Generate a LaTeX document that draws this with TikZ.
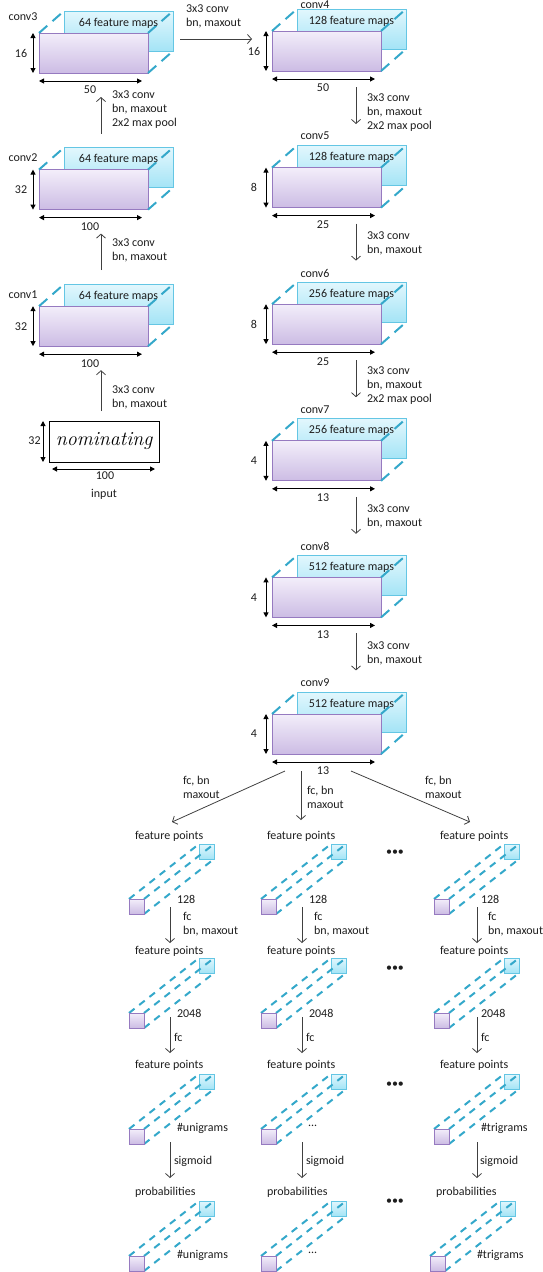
\documentclass[tikz,border=0pt]{standalone}
\usepackage{fontspec}
\newfontfamily\calfont{Carlito}
\usetikzlibrary{arrows.meta,calc}
\definecolor{purpTop}{RGB}{243,238,250}
\definecolor{purpBot}{RGB}{204,188,228}
\definecolor{purpLine}{RGB}{150,122,192}
\definecolor{cyanTop}{RGB}{226,247,253}
\definecolor{cyanBot}{RGB}{164,228,246}
\definecolor{cyanLine}{RGB}{100,198,228}
\definecolor{dashCol}{RGB}{52,168,202}
\definecolor{flowCol}{RGB}{64,64,64}
\definecolor{txtCol}{RGB}{30,30,30}
\tikzset{
 every node/.style={inner sep=0pt, outer sep=0pt, text=txtCol, font=\calfont\fontsize{12}{14}\selectfont},
 lbl/.style={align=left, anchor=west},
 purpbox/.style={draw=purpLine, line width=1pt, top color=purpTop, bottom color=purpBot, minimum width=109pt, minimum height=40pt, anchor=north west},
 cyanbox/.style={draw=cyanLine, line width=1pt, top color=cyanTop, bottom color=cyanBot, minimum width=109pt, minimum height=40pt, anchor=north west},
 purpsq/.style={purpbox, minimum width=15pt, minimum height=15pt},
 cyansq/.style={cyanbox, minimum width=15pt, minimum height=15pt},
 edgedash/.style={draw=dashCol, line width=2pt, dash pattern=on 11pt off 7pt},
 ptdash/.style={draw=dashCol, line width=2pt, dash pattern=on 7pt off 6pt},
 dimarr/.style={draw=black, line width=1pt, {Triangle[length=5pt,width=5pt]}-{Triangle[length=5pt,width=5pt]}},
 flow/.style={draw=flowCol, line width=0.8pt, -{Straight Barb[length=4pt,width=9pt]}},
}
% conv block: #1 name, #2 x, #3 y (front face top-left), #4 maps, #5 height, #6 width
\newcommand\convblk[6]{%
 \node[cyanbox] (#1c) at (#2+25,#3-22) {};
 \node[purpbox] (#1p) at (#2,#3) {};
 \draw[edgedash] (#1p.north west) -- (#1c.north west);
 \draw[edgedash] (#1p.north east) -- (#1c.north east);
 \draw[edgedash] (#1p.south east) -- (#1c.south east);
 \node (#1m) at ($(#1c.north)+(0,12)$) {#4 feature maps};
 \draw[dimarr] ($(#1p.north west)+(-6,0)$) -- ($(#1p.south west)+(-6,0)$);
 \node (#1h) at ($(#1p.west)+(-18,0)$) {#5};
 \draw[dimarr] ($(#1p.south west)+(0,8)$) -- ($(#1p.south west)+(103,8)$);
 \node (#1w) at ($(#1p.south west)+(51,17)$) {#6};
}
% feature point glyph: #1 name, #2 x, #3 y (purple square top-left)
\newcommand\fpglyph[3]{%
 \node[cyansq] (#1c) at (#2+70,#3-55) {};
 \draw[ptdash] (#2,#3) -- (#2+70,#3-55);
 \draw[ptdash] (#2+15,#3) -- (#2+85,#3-55);
 \draw[ptdash] (#2+15,#3+15) -- (#2+85,#3-40);
 \node[purpsq] (#1p) at (#2,#3) {};
}
\begin{document}
\begin{tikzpicture}[x=1pt,y=-1pt]
\useasboundingbox (0,0) rectangle (542,1272);

% left column
\convblk{c3}{39}{33}{64}{16}{50}
\convblk{c2}{39}{169.6}{64}{32}{100}
\convblk{c1}{39}{306.2}{64}{32}{100}
\node (n3) at (23,17) {conv3};
\node (n2) at (23,158) {conv2};
\node (n1) at (23,295) {conv1};

% input
\node[draw=black, line width=0.7pt, minimum width=110pt, minimum height=41pt, anchor=north west,
      font=\rmfamily\itshape\fontsize{20}{20}\selectfont, text=black] (inp) at (49,421) {nominating};
\draw[dimarr] ($(inp.north west)+(-6,0)$) -- ($(inp.south west)+(-6,0)$);
\node (inph) at (34.5,441) {32};
\draw[dimarr] ($(inp.south west)+(3,7)$) -- ($(inp.south west)+(106,7)$);
\node (inpw) at (105,476) {100};
\node (inpl) at (104,494) {input};

% right column
\convblk{c4}{272}{31}{128}{16}{50}
\convblk{c5}{272}{167.6}{128}{8}{25}
\convblk{c6}{272}{304.2}{256}{8}{25}
\convblk{c7}{272}{440.8}{256}{4}{13}
\convblk{c8}{272}{577.4}{512}{4}{13}
\convblk{c9}{272}{714}{512}{4}{13}
\node (n4) at (315,4.5) {conv4};
\node (n5) at (315,136) {conv5};
\node (n6) at (315,273) {conv6};
\node (n7) at (315,410) {conv7};
\node (n8) at (315,546) {conv8};
\node (n9) at (315,683) {conv9};

% flow arrows of the conv part
\draw[flow] ($(inp.north west)+(52,-10)$) -- ($(c1p.south west)+(62,24)$);
\draw[flow] ($(c1c.north west)+(37,-14)$) -- ($(c2p.south west)+(62,24)$);
\draw[flow] ($(c2c.north west)+(37,-14)$) -- ($(c3p.south west)+(62,24)$);
\draw[flow] ($(c3c.north east)+(7,28)$) -- ($(c4p.north west)+(-20,8)$);
\draw[flow] ($(c4p.south west)+(84,16)$) -- ($(c5c.north west)+(59,-21.6)$);
\draw[flow] ($(c5p.south west)+(84,16)$) -- ($(c6c.north west)+(59,-21.6)$);
\draw[flow] ($(c6p.south west)+(84,16)$) -- ($(c7c.north west)+(59,-21.6)$);
\draw[flow] ($(c7p.south west)+(84,16)$) -- ($(c8c.north west)+(59,-21.6)$);
\draw[flow] ($(c8p.south west)+(84,16)$) -- ($(c9c.north west)+(59,-21.6)$);

\node[lbl] (t01) at (112,397) {3x3 conv\\bn, maxout};
\node[lbl] (t12) at (112,250.5) {3x3 conv\\bn, maxout};
\node[lbl] (t23) at (112,109.5) {3x3 conv\\bn, maxout\\2x2 max pool};
\node[lbl] (t34) at (186,16.5) {3x3 conv\\bn, maxout};
\node[lbl] (t45) at (367,113) {3x3 conv\\bn, maxout\\2x2 max pool};
\node[lbl] (t56) at (367,243) {3x3 conv\\bn, maxout};
\node[lbl] (t67) at (367,386) {3x3 conv\\bn, maxout\\2x2 max pool};
\node[lbl] (t78) at (367,516) {3x3 conv\\bn, maxout};
\node[lbl] (t89) at (367,653) {3x3 conv\\bn, maxout};

% feature point rows
\node[lbl] (fA1) at (135,836) {feature points};
\node[lbl] (fB1) at (267,836) {feature points};
\node[lbl] (fC1) at (440,836) {feature points};
\node[lbl] (fA2) at (135,951) {feature points};
\node[lbl] (fB2) at (267,951) {feature points};
\node[lbl] (fC2) at (440,951) {feature points};
\node[lbl] (fA3) at (135,1065) {feature points};
\node[lbl] (fB3) at (267,1065) {feature points};
\node[lbl] (fC3) at (440,1065) {feature points};
\node[lbl] (fA4) at (135,1192) {probabilities};
\node[lbl] (fB4) at (267,1192) {probabilities};
\node[lbl] (fC4) at (436,1192) {probabilities};

\fpglyph{gA1}{129}{899}
\fpglyph{gB1}{261}{899}
\fpglyph{gC1}{434}{899}
\fpglyph{gA2}{129}{1013}
\fpglyph{gB2}{261}{1013}
\fpglyph{gC2}{434}{1013}
\fpglyph{gA3}{129}{1129}
\fpglyph{gB3}{261}{1129}
\fpglyph{gC3}{434}{1129}
\fpglyph{gA4}{129}{1256}
\fpglyph{gB4}{261}{1256}
\fpglyph{gC4}{430}{1256}

\node[lbl] (sA1) at (177,899) {128};
\node[lbl] (sB1) at (309,899) {128};
\node[lbl] (sC1) at (481,899) {128};
\node[lbl] (sA2) at (177,1013) {2048};
\node[lbl] (sB2) at (309,1013) {2048};
\node[lbl] (sC2) at (481,1013) {2048};
\node[lbl] (sA3) at (177,1128) {\#unigrams};
\node[lbl] (sB3) at (308,1126) {...};
\node[lbl] (sC3) at (481,1128) {\#trigrams};
\node[lbl] (sA4) at (177,1255) {\#unigrams};
\node[lbl] (sB4) at (308,1253) {...};
\node[lbl] (sC4) at (477,1255) {\#trigrams};

\node (d1) at (395,853) {\textbullet\textbullet\textbullet};
\node (d2) at (395,969) {\textbullet\textbullet\textbullet};
\node (d3) at (395,1085) {\textbullet\textbullet\textbullet};
\node (d4) at (395,1202) {\textbullet\textbullet\textbullet};

% fan-out
\draw[flow] ($(c9p.south west)+(13,17)$) -- ($(fA1.west)+(37,-14)$);
\draw[flow] ($(c9p.south west)+(29,17)$) -- ($(fB1.west)+(34,-16)$);
\draw[flow] ($(c9p.south west)+(79,17)$) -- ($(fC1.west)+(30,-14)$);
\node[lbl] (tA) at (183,787.5) {fc, bn\\maxout};
\node[lbl] (tB) at (307,797) {fc, bn\\maxout};
\node[lbl] (tC) at (425,787.5) {fc, bn\\maxout};

% row arrows
\draw[flow] ($(gA1p.north west)+(41,8)$) -- ($(fA2.west)+(35,-8)$);
\draw[flow] ($(gB1p.north west)+(41,8)$) -- ($(fB2.west)+(35,-8)$);
\draw[flow] ($(gC1p.north west)+(43,8)$) -- ($(fC2.west)+(37,-8)$);
\draw[flow] ($(gA2p.north west)+(41,4)$) -- ($(fA3.west)+(35,-12)$);
\draw[flow] ($(gB2p.north west)+(41,4)$) -- ($(fB3.west)+(35,-12)$);
\draw[flow] ($(gC2p.north west)+(43,4)$) -- ($(fC3.west)+(37,-12)$);
\draw[flow] ($(gA3p.north west)+(41,13)$) -- ($(fA4.west)+(35,-14)$);
\draw[flow] ($(gB3p.north west)+(41,13)$) -- ($(fB4.west)+(35,-14)$);
\draw[flow] ($(gC3p.north west)+(43,13)$) -- ($(fC4.west)+(41,-14)$);

\node[lbl] (uA1) at (183,924.5) {fc\\bn, maxout};
\node[lbl] (uB1) at (314,924.5) {fc\\bn, maxout};
\node[lbl] (uC1) at (488,924.5) {fc\\bn, maxout};
\node[lbl] (uA2) at (174,1037) {fc};
\node[lbl] (uB2) at (306,1037) {fc};
\node[lbl] (uC2) at (481,1037) {fc};
\node[lbl] (uA3) at (174,1161) {sigmoid};
\node[lbl] (uB3) at (306,1161) {sigmoid};
\node[lbl] (uC3) at (480,1161) {sigmoid};
\end{tikzpicture}
\end{document}
